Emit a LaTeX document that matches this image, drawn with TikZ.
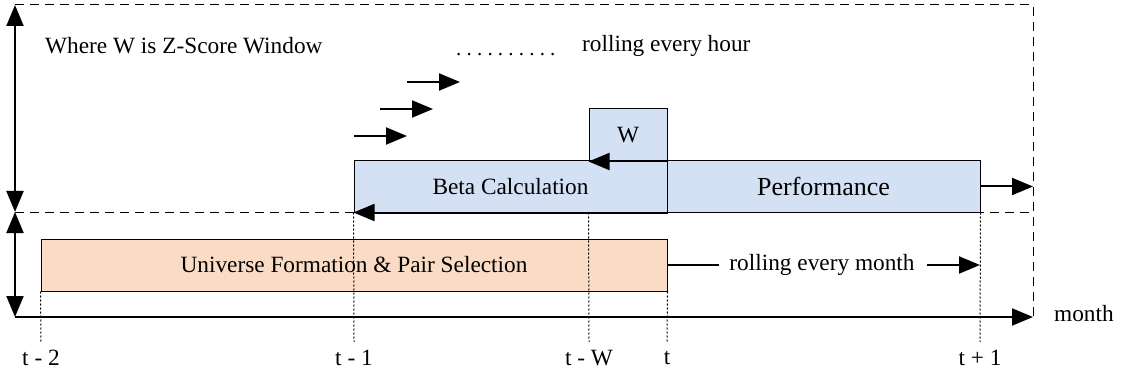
\documentclass[tikz,border=0pt]{standalone}
\usepackage{fontspec}
\setmainfont{Liberation Serif}
\usetikzlibrary{arrows.meta}
\definecolor{boxblue}{HTML}{D4E1F5}
\definecolor{boxorange}{HTML}{FADBC6}
\tikzset{
  txt/.style={font=\fontsize{23.3}{26}\selectfont, inner sep=0pt},
  blockbox/.style={draw=black, line width=1pt, inner sep=0pt, font=\fontsize{23.3}{26}\selectfont},
  bigarrow/.style={line width=2pt, -{Triangle[length=21pt,width=17pt]}},
  dblarrow/.style={line width=2pt, {Triangle[length=21pt,width=17pt]}-{Triangle[length=21pt,width=17pt]}},
  dashline/.style={line width=1pt, dash pattern=on 9pt off 6pt},
  dotline/.style={line width=1pt, dash pattern=on 2pt off 2pt},
}
\begin{document}
\begin{tikzpicture}[x=1pt,y=-1pt]
\useasboundingbox (0,0) rectangle (1121,374);
% coordinates
\coordinate (tl) at (15,5);
\coordinate (tr) at (1033,5);
\coordinate (ml) at (15,212);
\coordinate (mr) at (1033,212);
\coordinate (bl) at (15,317);
\coordinate (br) at (1033,317);
% dashed frame
\draw[dashline] (tl) -- (tr) -- (br);
\draw[dashline] (ml) -- (mr);
% boxes
\node[blockbox, fill=boxblue, minimum width=313pt, minimum height=51pt] (beta) at (510.5,186.5) {Beta Calculation};
\node[blockbox, fill=boxblue, minimum width=313pt, minimum height=51pt, font=\fontsize{26}{30}\selectfont] (perf) at (823.5,186.5) {Performance};
\node[blockbox, fill=boxblue, minimum width=78pt, minimum height=52pt] (wbox) at (628,135) {W};
\node[blockbox, fill=boxorange, minimum width=626pt, minimum height=52pt] (uni) at (354,265) {Universe Formation \& Pair Selection};
% axis and vertical arrows
\draw[dblarrow] (tl) -- (ml);
\draw[dblarrow] (ml) -- (bl);
\draw[bigarrow] (bl) -- (br);
\node[txt, anchor=west] (month) at (1054,314) {month};
% arrows on boxes
\draw[bigarrow] (wbox.south east) -- (wbox.south west);
\draw[bigarrow] (beta.south east) -- (beta.south west);
\coordinate (perfend) at (1033,186.5);
\draw[bigarrow] (perf.east) -- (perfend);
% rolling every month
\node[txt] (rm) at (822,265) {rolling every month};
\coordinate (rmend) at (980,265);
\draw[line width=2pt] (uni.east) -- ([xshift=-10pt]rm.west);
\draw[bigarrow] ([xshift=12pt]rm.east) -- (rmend);
% small arrows
\coordinate (a1s) at (354,136); \coordinate (a1e) at (407,136);
\coordinate (a2s) at (380,109); \coordinate (a2e) at (433,109);
\coordinate (a3s) at (407,82);  \coordinate (a3e) at (460,82);
\draw[bigarrow] (a1s) -- (a1e);
\draw[bigarrow] (a2s) -- (a2e);
\draw[bigarrow] (a3s) -- (a3e);
% texts top
\node[txt, anchor=west] (where) at (45,46) {Where W is Z-Score Window};
\node[txt, anchor=west] (hour) at (582,46) {rolling every hour};
\node[txt, anchor=west, font=\fontsize{21}{24}\selectfont] (dots) at (456,55) {.\hspace{5.2pt}.\hspace{5.2pt}.\hspace{5.2pt}.\hspace{5.2pt}.\hspace{5.2pt}.\hspace{5.2pt}.\hspace{5.2pt}.\hspace{5.2pt}.\hspace{5.2pt}.};
% tick labels
\node[txt] (t2) at (41,358) {t - 2};
\node[txt] (t1) at (354,358) {t - 1};
\node[txt] (tw) at (589,358) {t - W};
\node[txt] (t0) at (667,358) {t};
\node[txt] (tp) at (980,358) {t + 1};
% dotted guides
\draw[dotline] (uni.south west) -- ([yshift=8pt]t2.north);
\draw[dotline] (beta.south west) -- ([yshift=8pt]t1.north);
\draw[dotline] (beta.south -| wbox.south west) -- ([yshift=8pt]tw.north);
\draw[dotline] (uni.south east) -- ([yshift=8pt]t0.north);
\draw[dotline] (perf.south east) -- ([yshift=8pt]tp.north);
\end{tikzpicture}
\end{document}
